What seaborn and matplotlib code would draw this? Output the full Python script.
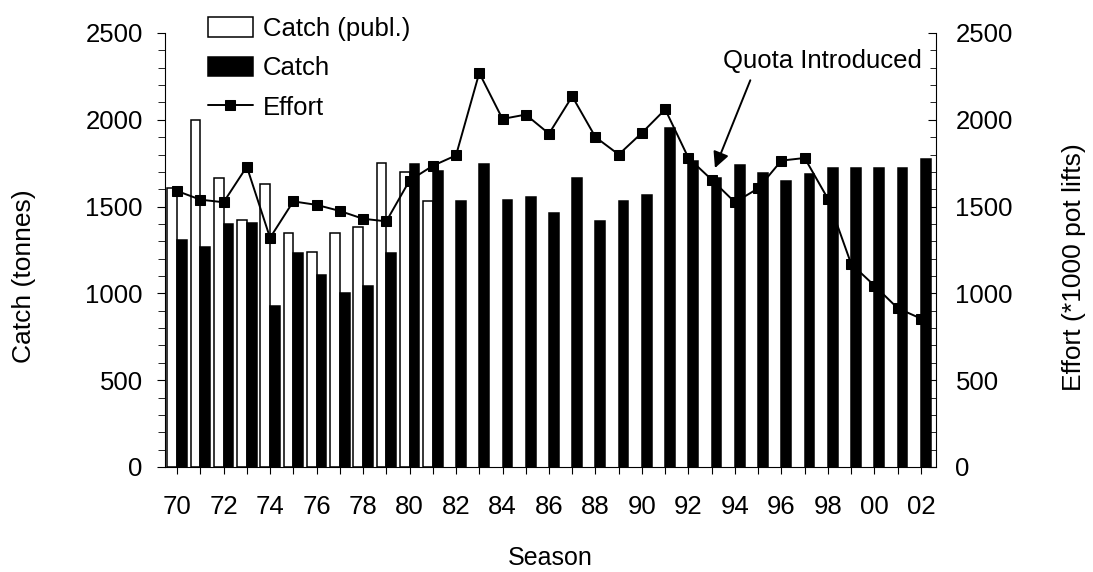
import numpy as np
import pandas as pd
import matplotlib
matplotlib.use("Agg")
import matplotlib.pyplot as plt
from matplotlib.ticker import MultipleLocator
import seaborn as sns

# data
seasons = ["70", "71", "72", "73", "74", "75", "76", "77", "78", "79",
           "80", "81", "82", "83", "84", "85", "86", "87", "88", "89",
           "90", "91", "92", "93", "94", "95", "96", "97", "98", "99",
           "00", "01", "02"]
catch_publ = [1610, 2000, 1665, 1425, 1630, 1350, 1240, 1350, 1385, 1750,
              1700, 1535] + [np.nan] * 21
catch = [1307, 1268, 1400, 1405, 930, 1230, 1105, 1005, 1045, 1230,
         1745, 1705, 1530, 1745, 1540, 1555, 1465, 1665, 1415, 1535,
         1565, 1950, 1765, 1665, 1740, 1695, 1650, 1690, 1725, 1725,
         1725, 1725, 1775]
effort = [1590, 1540, 1525, 1730, 1320, 1530, 1510, 1475, 1430, 1415,
          1650, 1735, 1795, 2270, 2005, 2030, 1920, 2135, 1900, 1800,
          1925, 2060, 1780, 1655, 1525, 1605, 1765, 1780, 1545, 1170,
          1045, 915, 855]

sns.set_style("ticks")
plt.rcParams['font.family'] = ['Liberation Sans', 'DejaVu Sans']
for k in ("text.color", "axes.labelcolor", "xtick.color", "ytick.color", "axes.edgecolor"):
    plt.rcParams[k] = "black"
fs = 18.5

df = pd.DataFrame({
    "season": seasons * 2,
    "series": ["Catch (publ.)"] * len(seasons) + ["Catch"] * len(seasons),
    "value": catch_publ + catch,
})

fig = plt.figure(figsize=(10.93, 5.72), dpi=100)
ax = fig.add_axes([165 / 1093, 1 - 467 / 572, (936 - 165) / 1093, (467 - 33) / 572])

sns.barplot(data=df, x="season", y="value", hue="series", order=seasons,
            hue_order=["Catch (publ.)", "Catch"],
            palette={"Catch (publ.)": "white", "Catch": "black"},
            edgecolor="black", linewidth=1.1, width=0.84, legend=False, ax=ax)

ax2 = ax.twinx()
sns.lineplot(x=np.arange(len(seasons)), y=effort, ax=ax2, color="black",
             marker="s", markersize=7, markeredgecolor="black",
             linewidth=1.4, legend=False)

for a in (ax, ax2):
    a.set_ylim(0, 2500)
    a.yaxis.set_major_locator(MultipleLocator(500))
    a.yaxis.set_minor_locator(MultipleLocator(100))
ax.set_xlim(-0.52, 32.65)
ax2.set_xlim(-0.52, 32.65)

ax.set_xticks(np.arange(len(seasons)))
ax.set_xticklabels([s if i % 2 == 0 else "" for i, s in enumerate(seasons)])

ax.tick_params(axis="x", direction="out", length=5, width=0.8, pad=15, labelsize=fs)
ax.tick_params(axis="y", which="major", direction="out", length=6, width=0.8, pad=10, labelsize=fs)
ax.tick_params(axis="y", which="minor", direction="out", length=5, width=0.6)
ax2.tick_params(axis="y", which="major", direction="in", length=6, width=0.8, pad=14, labelsize=fs)
ax2.tick_params(axis="y", which="minor", direction="in", length=4, width=0.6)

for a in (ax, ax2):
    a.spines["top"].set_visible(False)
    for s in ("left", "right", "bottom"):
        a.spines[s].set_linewidth(0.8)
ax.spines["right"].set_visible(False)
ax2.spines["left"].set_visible(False)
ax2.spines["bottom"].set_visible(False)

ax.set_xlabel("Season", fontsize=18)
ax.xaxis.set_label_coords(0.5, -0.183)
ax.set_ylabel("Catch (tonnes)", fontsize=19)
ax.yaxis.set_label_coords(-0.167, 0.44)
ax2.set_ylabel("Effort (*1000 pot lifts)", fontsize=19)
ax2.yaxis.set_label_coords(1.163, 0.46)

ax.annotate("Quota Introduced", xy=(23.14, 1722), xytext=(27.78, 2338),
            ha="center", va="center", fontsize=fs,
            arrowprops=dict(arrowstyle="-|>", color="black", lw=1.4,
                            mutation_scale=24, relpos=(0.15, 0.0),
                            shrinkA=3, shrinkB=0))

handles = [ax.containers[0], ax.containers[1], ax2.lines[0]]
labels = ["Catch (publ.)", "Catch", "Effort"]
fig.legend(handles, labels, loc="upper left", bbox_to_anchor=(208 / 1093, 1 - 17 / 572),
           frameon=False, fontsize=fs, borderpad=0, borderaxespad=0,
           handlelength=1.75, handleheight=0.8, handletextpad=0.4, labelspacing=0.6)

fig.savefig("out.png", dpi=100)
